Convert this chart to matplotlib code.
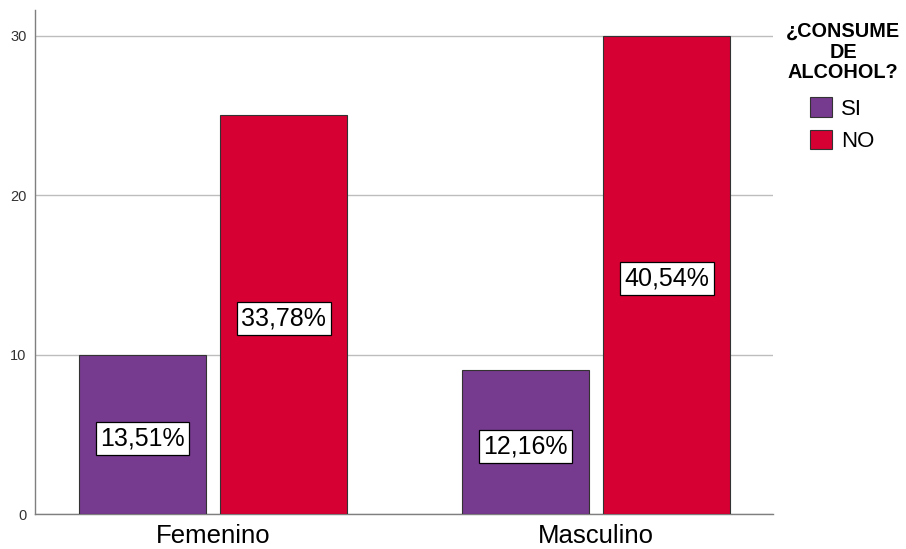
import numpy as np
import matplotlib
matplotlib.use("Agg")
import matplotlib.pyplot as plt

plt.rcParams["font.family"] = ["Liberation Sans", "DejaVu Sans"]

# data
categories = ["Femenino", "Masculino"]
series = ["SI", "NO"]
si_counts = [10, 9]
no_counts = [25, 30]
si_labels = ["13,51%", "12,16%"]
no_labels = ["33,78%", "40,54%"]
yticks = [0, 10, 20, 30]
legend_title = "¿CONSUME\nDE\nALCOHOL?"

purple = "#763A8E"
red = "#D60032"

fig = plt.figure(figsize=(9.06, 5.49), dpi=100)
ax = fig.add_axes([35 / 906, 1 - 514 / 549, (773 - 35) / 906, (514 - 10) / 549])

x = np.arange(len(categories))
width = 0.332
offset = 0.1845

b1 = ax.bar(x - offset, si_counts, width, color=purple, edgecolor="#333333",
            linewidth=0.8, zorder=3, label=series[0])
b2 = ax.bar(x + offset, no_counts, width, color=red, edgecolor="#333333",
            linewidth=0.8, zorder=3, label=series[1])

box = dict(boxstyle="square,pad=0.18", facecolor="white", edgecolor="black", linewidth=0.9)
for bars, labels in ((b1, si_labels), (b2, no_labels)):
    for rect, lab in zip(bars, labels):
        ax.text(rect.get_x() + rect.get_width() / 2, rect.get_height() / 2 - 0.25, lab,
                ha="center", va="center", fontsize=18, bbox=box, zorder=4)

ax.set_xlim(-0.465, 1.462)
ax.set_ylim(0, 31.6)
ax.set_yticks(yticks)
ax.set_yticklabels([str(t) for t in yticks], fontsize=10.5, color="#333333")
ax.set_xticks(x)
ax.set_xticklabels(categories, fontsize=18.5)
ax.tick_params(axis="y", length=0, pad=6)
ax.tick_params(axis="x", length=0, pad=7)

ax.grid(axis="y", color="#BDBDBD", linewidth=1.0, zorder=0)
ax.set_axisbelow(True)
for s in ("top", "right"):
    ax.spines[s].set_visible(False)
for s in ("left", "bottom"):
    ax.spines[s].set_color("#7F7F7F")
    ax.spines[s].set_linewidth(1.0)

# legend title drawn separately so it can be centred like the reference
fig.text(843 / 906, 1 - 52 / 549, legend_title, ha="center", va="center",
         multialignment="center", fontsize=14.3, fontweight="bold", linespacing=1.12)

ax.legend(handles=[b1, b2], loc="upper left", bbox_to_anchor=(810 / 906, 1 - 97 / 549),
          bbox_transform=fig.transFigure, frameon=False, fontsize=16,
          handlelength=1.0, handleheight=1.0, handletextpad=0.4,
          labelspacing=0.45, borderpad=0, borderaxespad=0)

fig.savefig("out.png", dpi=100)
